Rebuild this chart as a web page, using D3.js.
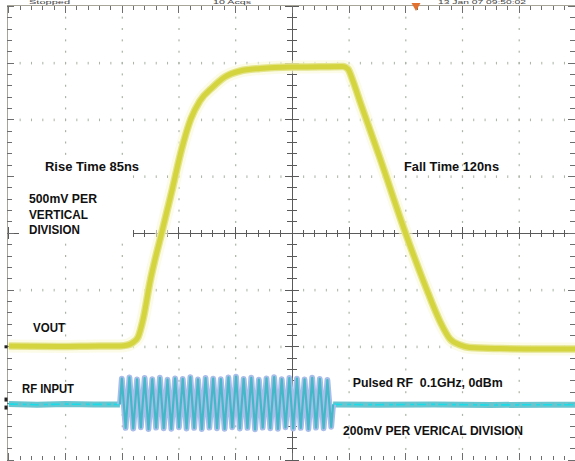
<!DOCTYPE html>
<html><head><meta charset="utf-8">
<script src="https://cdn.jsdelivr.net/npm/d3@7"></script>
<style>html,body{margin:0;padding:0;background:#fff;overflow:hidden}svg{display:block}</style>
</head><body><svg id="c" width="575" height="461"></svg>
<script>
// ---------------- data ----------------
// Time base: 100 ns per division, 10 divisions across the screen
const timeDivisions = [0, 1, 2, 3, 4, 5, 6, 7, 8, 9, 10];
const voltDivisions = [-4, -3, -2, -1, 0, 1, 2, 3, 4];

// VOUT trace (500 mV / div), time in ns, value in volts
const voutTimeNs = [0, 90, 161, 196, 210, 219, 228, 237, 249, 270, 288, 305, 321, 337, 360, 381, 408, 443, 499, 549, 589, 598, 607, 619, 655, 699, 734, 761, 778, 796, 813, 866, 937, 1000];
const voutVolts  = [0.007, 0.003, 0.007, 0.007, 0.016, 0.038, 0.086, 0.245, 0.571, 1.011, 1.381, 1.743, 2.007, 2.166, 2.289, 2.377, 2.430, 2.452, 2.465, 2.467, 2.470, 2.448, 2.342, 2.166, 1.656, 1.011, 0.544, 0.218, 0.069, 0.016, -0.006, -0.015, -0.019, -0.019];

// RF INPUT trace (200 mV / div), baseline outside the burst
const rfBaseLeftNs  = [0, 50, 100, 150, 196];
const rfBaseLeftMv  = [-2, -4, -2, -3, -3];
const rfBaseRightNs = [572, 650, 750, 850, 950, 1000];
const rfBaseRightMv = [-3, -4, -3, -5, -4, -4];
// RF burst: start/end time and per-cycle peak values (mV)
const rfBurstStartNs = 196;
const rfBurstEndNs = 572;
const rfCycleHighMv = [88, 92, 85, 90, 86, 91, 84, 89, 87, 93, 85, 90, 88, 86, 92, 95, 87, 91, 84, 89, 93, 86, 90, 88, 85, 91, 87, 83];
const rfCycleLowMv  = [-86, -88, -84, -90, -85, -87, -89, -84, -88, -86, -90, -85, -87, -89, -84, -88, -86, -91, -85, -87, -89, -84, -88, -86, -90, -85, -87, -82];

// Annotation texts
const labelTexts = ["Rise Time 85ns", "500mV PER", "VERTICAL", "DIVISION", "VOUT", "RF INPUT", "Pulsed RF  0.1GHz, 0dBm", "200mV PER VERICAL DIVISION", "Fall Time 120ns"];
const statusTexts = ["Stopped", "10 Acqs", "13 Jan 07 09:50:02"];

// ---------------- layout ----------------
const W = 575, H = 461;
const svg = d3.select("#c");
svg.append("rect").attr("width", W).attr("height", H).attr("fill", "#ffffff");

const x = d3.scaleLinear().domain([0, 1000]).range([8.8, 575.8]);
const y = d3.scaleLinear().domain([-4, 4]).range([460.3, 6.3]);
const voutOffsetDiv = -2, voutVPerDiv = 0.5;
const rfOffsetDiv = -3, rfMvPerDiv = 200;
const yV = v => y(voutOffsetDiv + v / voutVPerDiv);
const yRF = mv => y(rfOffsetDiv + mv / rfMvPerDiv);

const minorX = d3.range(0, 50.001, 1).map(i => i * 20);      // ns
const minorY = d3.range(-20, 20.001, 1).map(i => i * 0.2);   // div

const g = svg.append("g");

// dotted graticule
const dots = g.append("g").attr("fill", "#a9b4a4");
timeDivisions.filter(d => d > 0 && d < 10 && d !== 5).forEach(d => {
  dots.selectAll(null).data(minorY.filter(v => v > -4 && v < 4)).join("rect")
    .attr("x", x(d * 100) - 0.5).attr("y", v => y(v) - 1).attr("width", 1.2).attr("height", 2);
});
voltDivisions.filter(d => d > -4 && d < 4 && d !== 0).forEach(d => {
  dots.selectAll(null).data(minorX.filter(t => t > 0 && t < 1000)).join("rect")
    .attr("x", t => x(t) - 0.5).attr("y", y(d) - 1.2).attr("width", 1).attr("height", 2.6);
});

// center cross axes
const ax = g.append("g").attr("stroke", "#5a5a5a").attr("stroke-width", 1).attr("shape-rendering", "crispEdges");
ax.append("line").attr("x1", x(0)).attr("x2", x(1000)).attr("y1", y(0)).attr("y2", y(0));
ax.append("line").attr("x1", x(500)).attr("x2", x(500)).attr("y1", y(-4)).attr("y2", y(4));
ax.selectAll(null).data(minorX).join("line")
  .attr("x1", t => x(t)).attr("x2", t => x(t))
  .attr("y1", t => y(0) - (t % 100 === 0 ? 6 : 3.5)).attr("y2", t => y(0) + (t % 100 === 0 ? 6 : 3.5));
ax.selectAll(null).data(minorY).join("line")
  .attr("y1", v => y(v)).attr("y2", v => y(v))
  .attr("x1", v => x(500) - (Math.abs(v % 1) < 1e-6 ? 7 : 5)).attr("x2", v => x(500) + (Math.abs(v % 1) < 1e-6 ? 7 : 5));

// border with ticks
const bd = g.append("g").attr("shape-rendering", "crispEdges");
bd.append("line").attr("x1", 7).attr("x2", W).attr("y1", 5.5).attr("y2", 5.5).attr("stroke", "#a7a498");
bd.append("line").attr("x1", 7.3).attr("x2", 7.3).attr("y1", 5.5).attr("y2", H).attr("stroke", "#a7a498");
const bt = bd.append("g").attr("stroke", "#6e6e6e");
bt.selectAll(null).data(minorX).join("line")
  .attr("x1", t => x(t)).attr("x2", t => x(t)).attr("y1", 5.5).attr("y2", t => 5.5 + (t % 100 === 0 ? 7 : 4.5));
bt.selectAll(null).data(minorX).join("line")
  .attr("x1", t => x(t)).attr("x2", t => x(t)).attr("y1", 460).attr("y2", t => 460 - (t % 100 === 0 ? 7 : 4.5));
bt.selectAll(null).data(minorY).join("line")
  .attr("y1", v => y(v)).attr("y2", v => y(v)).attr("x1", 7.3).attr("x2", v => 7.3 + (Math.abs(v % 1) < 1e-6 ? 7 : 5));
bt.selectAll(null).data(minorY).join("line")
  .attr("y1", v => y(v)).attr("y2", v => y(v)).attr("x1", 575).attr("x2", v => 575 - (Math.abs(v % 1) < 1e-6 ? 7 : 5));

// status texts (tiny, in the strip above the graticule)
const statusPos = [[29, 41], [213, 38], [438, 88]];
g.selectAll(null).data(statusTexts).join("text")
  .attr("x", (d, i) => statusPos[i][0]).attr("y", 4.3)
  .attr("textLength", (d, i) => statusPos[i][1]).attr("lengthAdjust", "spacingAndGlyphs")
  .attr("font-family", "Liberation Sans, Arial, sans-serif").attr("font-size", 4.5)
  .attr("fill", "#444").text(d => d);

// trigger marker
const trigT = (416 - 8.8) / 0.567;
g.append("path").attr("d", d3.line()([[x(trigT) - 4.5, 3], [x(trigT) + 4.5, 3], [x(trigT), 11]]) + "Z")
  .attr("fill", "#e2702e");

// white box behind the left annotation block
g.append("rect").attr("x", 19).attr("y", 156).attr("width", 114).attr("height", 85).attr("fill", "#fff");

// channel markers
g.append("rect").attr("x", 4.5).attr("y", yV(0) - 1.5).attr("width", 3).attr("height", 3).attr("fill", "#222");
g.append("rect").attr("x", 4.5).attr("y", yRF(0) - 6).attr("width", 3).attr("height", 4).attr("fill", "#222");
g.append("rect").attr("x", 4.5).attr("y", yRF(0) + 2).attr("width", 3).attr("height", 4).attr("fill", "#222");

// ---------------- RF trace ----------------
const rfLine = d3.line().x(d => x(d[0])).y(d => yRF(d[1]));
const baseL = rfBaseLeftNs.map((t, i) => [t, rfBaseLeftMv[i]]);
const baseR = rfBaseRightNs.map((t, i) => [t, rfBaseRightMv[i]]);
[baseL, baseR].forEach(seg => {
  g.append("path").attr("d", rfLine(seg)).attr("fill", "none").attr("stroke", "#62c2cc").attr("stroke-width", 6).attr("opacity", 0.95);
  g.append("path").attr("d", rfLine(seg)).attr("fill", "none").attr("stroke", "#18dde9").attr("stroke-width", 1.6).attr("stroke-dasharray", "9 5 4 3");
});
const nCyc = rfCycleHighMv.length;
const period = (rfBurstEndNs - rfBurstStartNs) / nCyc;
const burstPts = [[rfBurstStartNs, -3]];
rfCycleHighMv.forEach((hi, i) => {
  burstPts.push([rfBurstStartNs + (i + 0.25) * period, hi]);
  burstPts.push([rfBurstStartNs + (i + 0.75) * period, rfCycleLowMv[i]]);
});
burstPts.push([rfBurstEndNs, -3]);
g.append("path").attr("d", rfLine(burstPts)).attr("fill", "none").attr("stroke", "#a8bde9").attr("stroke-width", 5.8).attr("stroke-linejoin", "round");
g.append("path").attr("d", rfLine(burstPts)).attr("fill", "none").attr("stroke", "#45b8c8").attr("stroke-width", 2.2).attr("stroke-linejoin", "round");

// ---------------- VOUT trace ----------------
const vPts = voutTimeNs.map((t, i) => [t, voutVolts[i]]);
const vLine = d3.line().x(d => x(d[0])).y(d => yV(d[1])).curve(d3.curveMonotoneX);
g.append("path").attr("d", vLine(vPts)).attr("fill", "none").attr("stroke", "#f8f8d8").attr("stroke-width", 13).attr("stroke-linejoin", "round").attr("opacity", 0.6);
g.append("path").attr("d", vLine(vPts)).attr("fill", "none").attr("stroke", "#e4e48c").attr("stroke-width", 7.5).attr("stroke-linejoin", "round");
g.append("path").attr("d", vLine(vPts)).attr("fill", "none").attr("stroke", "#d4d43e").attr("stroke-width", 5).attr("stroke-linejoin", "round");

// ---------------- labels ----------------
const labelPos = [
  [45, 171, 94], [29, 202.5, 68], [29, 218.5, 59], [29, 234, 51],
  [33, 331.5, 32], [22, 393, 52], [352.7, 387.3, 150], [343, 435, 180], [404, 171, 95]
];
g.selectAll("text.lbl").data(labelTexts).join("text").attr("class", "lbl")
  .attr("x", (d, i) => labelPos[i][0]).attr("y", (d, i) => labelPos[i][1])
  .attr("textLength", (d, i) => labelPos[i][2]).attr("lengthAdjust", "spacingAndGlyphs")
  .attr("font-family", "Liberation Sans, Arial, sans-serif").attr("font-weight", "bold").attr("font-size", 12)
  .attr("fill", "#111").style("white-space", "pre").text(d => d);
</script></body></html>
